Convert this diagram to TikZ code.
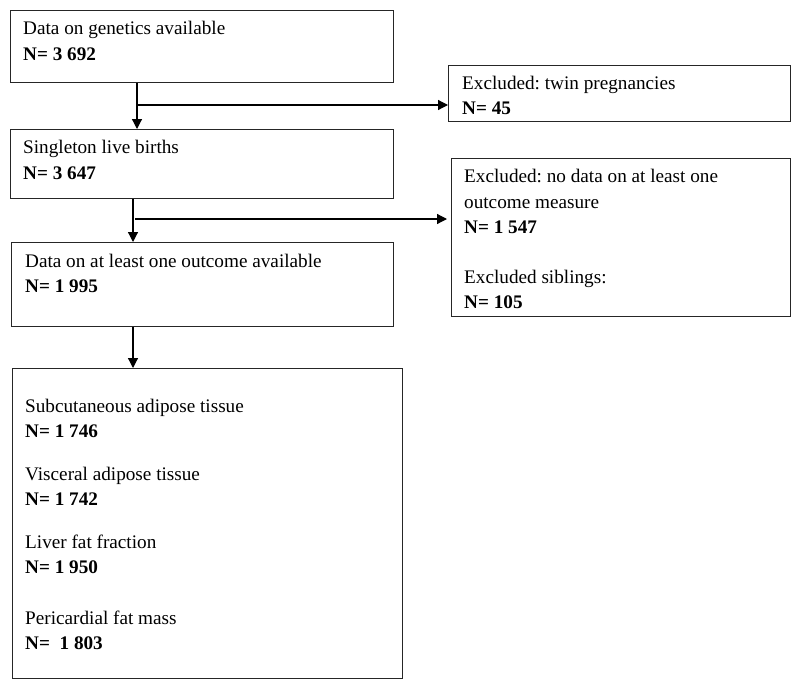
\documentclass[tikz,border=0pt]{standalone}
\usepackage{fontspec}
\setmainfont{Liberation Serif}
\frenchspacing
\usetikzlibrary{arrows.meta,calc}
\begin{document}
\begin{tikzpicture}[x=1pt,y=-1pt,
  box/.style={draw=black!85,line width=1.2pt,anchor=north west,inner sep=0pt,minimum width=#1},
  txt/.style={anchor=base west,inner sep=0pt,font=\fontsize{19.2}{23}\selectfont},
  bt/.style={txt,font=\fontsize{19.2}{23}\selectfont\bfseries},
  conn/.style={line width=1.2pt,-{Triangle[length=10pt,width=10pt]}}]
\useasboundingbox (0,0) rectangle (800,688);
% boxes
\node[box=383pt,minimum height=72pt] (b1) at (10,10) {};
\node[box=383pt,minimum height=69pt] (b2) at (10,129) {};
\node[box=382pt,minimum height=84pt] (b3) at (11,242) {};
\node[box=390pt,minimum height=310pt] (b4) at (12,368) {};
\node[box=342pt,minimum height=56pt] (e1) at (448,65) {};
\node[box=339pt,minimum height=158pt] (e2) at (451,158) {};
% texts
\node[txt] (t1) at (23,34) {Data on genetics available};
\node[bt] (n1) at (23,60) {N= 3 692};
\node[txt] (t2) at (23,153) {Singleton live births};
\node[bt] (n2) at (23,179) {N= 3 647};
\node[txt] (t3) at (25,267) {Data on at least one outcome available};
\node[bt] (n3) at (25,292) {N= 1 995};
\node[txt] (te1) at (462,89) {Excluded: twin pregnancies};
\node[bt] (ne1) at (462,114) {N= 45};
\node[txt] (te2) at (464,182) {Excluded: no data on at least one};
\node[txt] (te2b) at (464,208) {outcome measure};
\node[bt] (ne2) at (464,233) {N= 1 547};
\node[txt] (te3) at (464,283) {Excluded siblings:};
\node[bt] (ne3) at (464,308) {N= 105};
\node[txt] (t4a) at (25,412) {Subcutaneous adipose tissue};
\node[bt] (n4a) at (25,437) {N= 1 746};
\node[txt] (t4b) at (25,480) {Visceral adipose tissue};
\node[bt] (n4b) at (25,505) {N= 1 742};
\node[txt] (t4c) at (25,548) {Liver fat fraction};
\node[bt] (n4c) at (25,573) {N= 1 950};
\node[txt] (t4d) at (25,624) {Pericardial fat mass};
\node[bt] (n4d) at (25,649) {N=\ \ 1 803};
% connectors
\coordinate (j1) at (137,105);
\coordinate (j2) at (133,219);
\coordinate (j3) at (133,326);
\draw[conn] (b1.south -| j1) -- (b2.north -| j1);
\draw[conn] (j1) -- (e1.west |- j1);
\draw[conn] (b2.south -| j2) -- (b3.north -| j2);
\draw[conn] ($(j2)+(2,0)$) -- ($(e2.west |- j2)+(-4,0)$);
\draw[conn] (b3.south -| j3) -- (b4.north -| j3);
\end{tikzpicture}
\end{document}
